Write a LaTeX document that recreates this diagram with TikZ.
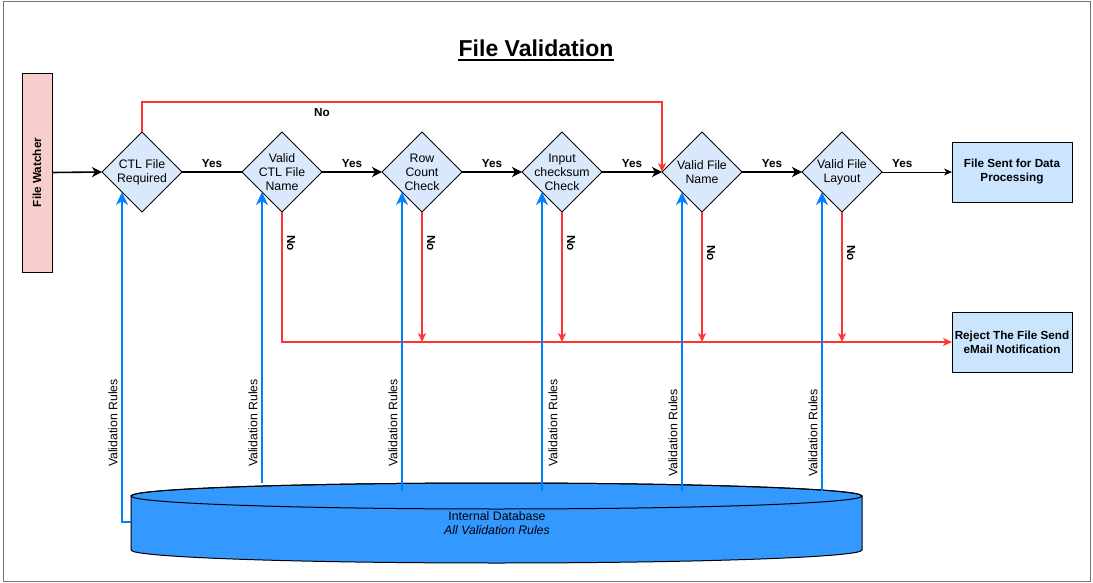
\documentclass[tikz,border=0pt]{standalone}
\usepackage{fontspec}
\setmainfont{Liberation Sans}
\usetikzlibrary{shapes.geometric,arrows.meta}
\definecolor{decfill}{HTML}{DAE8FC}
\definecolor{boxfill}{HTML}{CCE5FF}
\definecolor{pinkfill}{HTML}{F8CECC}
\definecolor{redc}{HTML}{FF3333}
\definecolor{bluec}{HTML}{007FFF}
\definecolor{dbfill}{HTML}{3399FF}
\begin{document}
\begin{tikzpicture}[x=1pt,y=-1pt,
  dec/.style={diamond, draw=black, fill=decfill, minimum width=80pt, minimum height=80pt, inner sep=0pt, outer sep=0pt, line width=0.8pt},
  dtext/.style={font=\fontsize{12.3}{14}\selectfont, align=center, inner sep=0pt},
  flow/.style={line width=1.6pt, -{Stealth[length=10pt,width=10pt,inset=3pt]}},
  noline/.style={draw=redc, line width=1.4pt},
  noarrow/.style={noline, -{Stealth[length=9pt,width=8pt,inset=2.5pt]}},
  rulearrow/.style={draw=bluec, line width=2.6pt, -{Stealth[length=13pt,width=12pt,inset=4pt]}},
  lbl/.style={font=\fontsize{11.7}{13}\selectfont\bfseries, inner sep=1pt},
  vr/.style={font=\fontsize{12.3}{14}\selectfont, rotate=90, inner sep=0pt},
  outbox/.style={draw=black, fill=boxfill, minimum width=120pt, minimum height=60pt, inner sep=0pt, outer sep=0pt, align=center, line width=0.8pt, font=\fontsize{11.7}{14}\selectfont\bfseries},
]
\useasboundingbox (0,0) rectangle (1093,583);
\draw[black!55, line width=1pt] (3,2) rectangle (1090,581);

% title
\node[font=\fontsize{23}{27}\selectfont\bfseries, inner sep=0pt, anchor=base] (title) at (536,57) {File Validation};
\draw[line width=1.8pt] ([yshift=-2.8pt]title.base west) -- ([yshift=-2.8pt]title.base east);

% file watcher
\node[draw=black, fill=pinkfill, minimum width=30pt, minimum height=199pt, inner sep=0pt, outer sep=0pt, line width=0.8pt] (fw) at (37,172.5) {};
\node[font=\fontsize{11.7}{14}\selectfont\bfseries, rotate=90, inner sep=0pt] (fwt) at (fw.center) {File Watcher};

% decisions
\node[dec] (d1) at (142,172) {};
\node[dec] (d2) at (282,172) {};
\node[dec] (d3) at (422,172) {};
\node[dec] (d4) at (562,172) {};
\node[dec] (d5) at (702,172) {};
\node[dec] (d6) at (842,172) {};
\node[dtext] (t1) at (d1.center) {CTL File\\Required};
\node[dtext] (t2) at (d2.center) {Valid\\CTL File\\Name};
\node[dtext] (t3) at (d3.center) {Row\\Count\\Check};
\node[dtext] (t4) at (d4.center) {Input\\checksum\\Check};
\node[dtext] (t5) at (d5.center) {Valid File\\Name};
\node[dtext] (t6) at (d6.center) {Valid File\\Layout};

% outputs
\node[outbox] (sent) at (1012,172) {File Sent for Data\\Processing};
\node[outbox] (rej) at (1012,342) {Reject The File Send\\eMail Notification};

% database cylinder
\path[fill=dbfill, draw=black, line width=1pt] (131,496) -- (131,550)
  arc[start angle=180, end angle=0, x radius=365.5, y radius=13]
  -- (862,496) arc[start angle=0, end angle=-180, x radius=365.5, y radius=13] -- cycle;
\draw[line width=1pt] (496.5,496) ellipse[x radius=365.5, y radius=13];
\node[dtext] (dbl) at (497,523) {Internal Database\\\textit{All Validation Rules}};

% yes flow
\draw[flow] (fw.east) -- (d1.west);
\draw[line width=1.6pt] (d1.east) -- node[lbl, above=3pt] (y1) {Yes} (d2.west);
\draw[flow] (d2.east) -- node[lbl, above=3pt] (y2) {Yes} (d3.west);
\draw[flow] (d3.east) -- node[lbl, above=3pt] (y3) {Yes} (d4.west);
\draw[flow] (d4.east) -- node[lbl, above=3pt] (y4) {Yes} (d5.west);
\draw[flow] (d5.east) -- node[lbl, above=3pt] (y5) {Yes} (d6.west);
\draw[line width=0.9pt, -{Stealth[length=8pt,width=7pt,inset=2.5pt]}] (d6.east) -- node[lbl, above=3pt, pos=0.29] (y6) {Yes} (sent.west);

% no paths
\coordinate (topy) at (0,102);
\draw[noarrow] (d1.north) -- (d1.north |- topy) -| (d5.west);
\node[lbl] (n1) at (322,113) {No};
\draw[noarrow] (d2.south) |- (rej.west);
\draw[noarrow] (d3.south) -- (d3.south |- rej.west);
\draw[noarrow] (d4.south) -- (d4.south |- rej.west);
\draw[noarrow] (d5.south) -- (d5.south |- rej.west);
\draw[noarrow] (d6.south) -- (d6.south |- rej.west);
\node[lbl, rotate=-90] (n2) at (291,243) {No};
\node[lbl, rotate=-90] (n3) at (431,243) {No};
\node[lbl, rotate=-90] (n4) at (571,243) {No};
\node[lbl, rotate=-90] (n5) at (711,253) {No};
\node[lbl, rotate=-90] (n6) at (851,253) {No};

% validation rules
\coordinate (dbside) at (131,522);
\coordinate (dbtopa) at (0,483);
\coordinate (dbtop) at (0,491);
\draw[rulearrow] (dbside) -- (d1.south west |- dbside) -- (d1.south west);
\draw[rulearrow] (d2.south west |- dbtopa) -- (d2.south west);
\draw[rulearrow] (d3.south west |- dbtop) -- (d3.south west);
\draw[rulearrow] (d4.south west |- dbtop) -- (d4.south west);
\draw[rulearrow] (d5.south west |- dbtop) -- (d5.south west);
\draw[rulearrow] (d6.south west |- dbtop) -- (d6.south west);
\node[vr] (v1) at (113,423) {Validation Rules};
\node[vr] (v2) at (253,423) {Validation Rules};
\node[vr] (v3) at (393,423) {Validation Rules};
\node[vr] (v4) at (553,423) {Validation Rules};
\node[vr] (v5) at (673,433) {Validation Rules};
\node[vr] (v6) at (813,433) {Validation Rules};
\end{tikzpicture}
\end{document}
